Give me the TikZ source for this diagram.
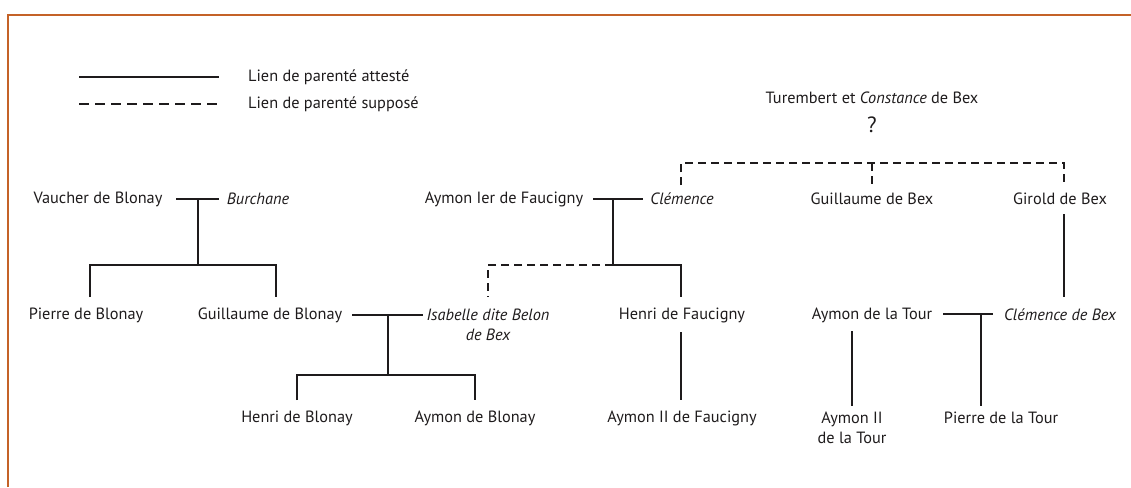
\documentclass[tikz,border=0pt]{standalone}
\usepackage{fontspec}
\setmainfont{PT Sans}
\definecolor{frameorange}{RGB}{196,98,40}
\definecolor{ink}{RGB}{30,27,28}
\begin{document}
\begin{tikzpicture}[x=1pt,y=-1pt,
  person/.style={font=\fontsize{16.3}{19.5}\selectfont, text=ink, inner sep=0pt, anchor=center, align=center},
  spouse/.style={person, font=\fontsize{16.3}{19.5}\selectfont\itshape},
  link/.style={line width=1.2pt, draw=ink},
  guess/.style={link, dash pattern=on 8pt off 5pt},
  legendguess/.style={link, dash pattern=on 10pt off 6pt}]
\useasboundingbox (0,0) rectangle (1131,487);
% frame
\draw[frameorange, line width=2pt] (8,487) -- (8,15) -- (1131,15);
% legend
\coordinate (la1) at (79,77); \coordinate (la2) at (219,77);
\coordinate (lb1) at (79,104); \coordinate (lb2) at (219,104);
\draw[link] (la1) -- (la2);
\draw[legendguess] (lb1) -- (lb2);
\node[person, anchor=west] (lega) at (248,77) {Lien de parenté attesté};
\node[person, anchor=west] (legb) at (248,104) {Lien de parenté supposé};
% Bex ancestors
\node[person] (turembert) at (872,98) {Turembert et \textit{Constance} de Bex};
\node[person, font=\fontsize{22}{26}\selectfont] (q) at (872,125) {?};
% row 1
\node[person] (vaucher) at (98,199) {Vaucher de Blonay};
\node[spouse] (burchane) at (258,199) {Burchane};
\node[person] (aymon1) at (504,199) {Aymon Ier de Faucigny};
\node[spouse] (clemence) at (682,199) {Clémence};
\node[person] (guillbex) at (872,199) {Guillaume de Bex};
\node[person] (girold) at (1060,199) {Girold de Bex};
% row 2
\node[person] (pierreb) at (86,315) {Pierre de Blonay};
\node[person] (guillb) at (270,315) {Guillaume de Blonay};
\node[spouse] (isabelle) at (488,325) {Isabelle dite Belon\\de Bex};
\node[person] (henrif) at (682,315) {Henri de Faucigny};
\node[person] (aymontour) at (872,315) {Aymon de la Tour};
\node[spouse] (clembex) at (1060,315) {Clémence de Bex};
% row 3
\node[person] (henrib) at (297,418) {Henri de Blonay};
\node[person] (aymonb) at (475,418) {Aymon de Blonay};
\node[person] (aymon2f) at (682,418) {Aymon II de Faucigny};
\node[person] (aymon2t) at (852,428) {Aymon II\\de la Tour};
\node[person] (pierret) at (1001,418) {Pierre de la Tour};
% Bex sibling bar (supposed)
\coordinate (bexl) at (681,163); \coordinate (bexm) at (872,163); \coordinate (bexr) at (1064,163);
\draw[guess] (681,185) -- (bexl) -- (bexr) -- (1064,185);
\draw[guess] (bexm) -- (872,185);
% Vaucher + Burchane
\coordinate (m1l) at (176,199); \coordinate (m1c) at (198,199); \coordinate (m1r) at (219,199);
\draw[link] (m1l) -- (m1r);
\coordinate (s1) at (198,265);
\draw[link] (m1c) -- (s1);
\draw[link] (90,297) -- (90,265) -- (276,265) -- (276,297);
% Aymon I + Clemence
\coordinate (m2l) at (593,199); \coordinate (m2c) at (613,199); \coordinate (m2r) at (643,199);
\draw[link] (m2l) -- (m2r);
\coordinate (s2) at (613,265);
\draw[link] (m2c) -- (s2) -- (681,265) -- (681,297);
\draw[guess] (s2) -- (488,265) -- (488,297);
% Guillaume de Blonay + Isabelle
\coordinate (m3l) at (352,315); \coordinate (m3c) at (388,315); \coordinate (m3r) at (423,315);
\draw[link] (m3l) -- (m3r);
\coordinate (s3) at (388,375);
\draw[link] (m3c) -- (s3);
\draw[link] (297,400) -- (297,375) -- (475,375) -- (475,400);
% Henri de Faucigny -> Aymon II
\coordinate (hf1) at (681,332); \coordinate (hf2) at (681,400);
\draw[link] (hf1) -- (hf2);
% Girold -> Clemence de Bex
\coordinate (g1) at (1064,214); \coordinate (g2) at (1064,297);
\draw[link] (g1) -- (g2);
% Aymon de la Tour + Clemence de Bex
\coordinate (m4l) at (943,314); \coordinate (m4c) at (981,314); \coordinate (m4r) at (993,314);
\draw[link] (m4l) -- (m4r);
\coordinate (s4) at (981,406);
\draw[link] (m4c) -- (s4);
\coordinate (t1) at (852,331); \coordinate (t2) at (852,406);
\draw[link] (t1) -- (t2);
\end{tikzpicture}
\end{document}
